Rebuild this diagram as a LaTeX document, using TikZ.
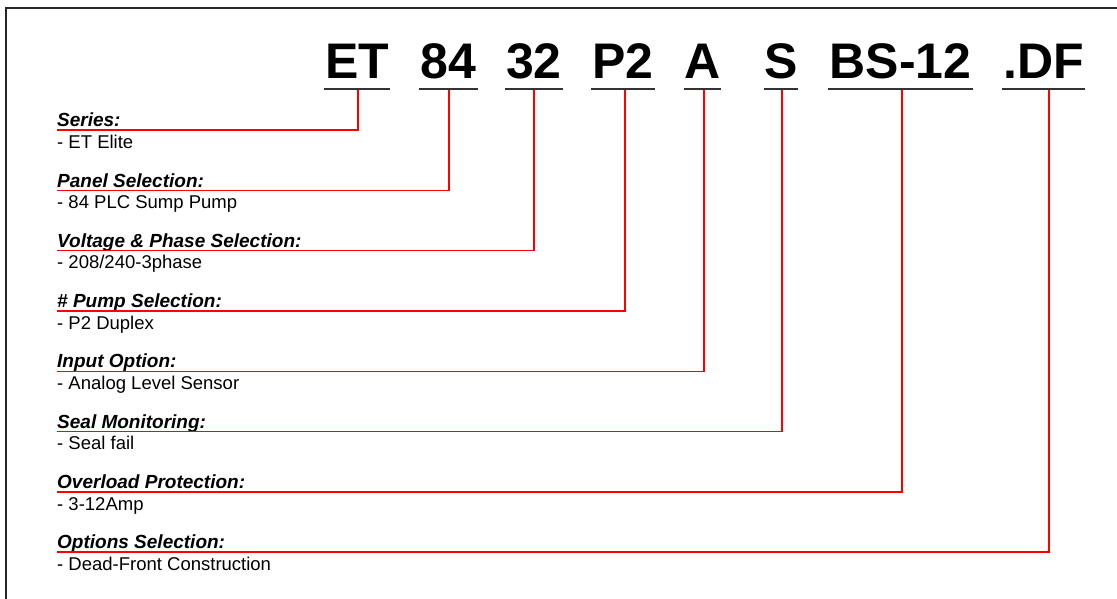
\documentclass[tikz,border=0pt]{standalone}
\usepackage{fontspec}
\setmainfont{Liberation Sans}
\begin{document}
\begin{tikzpicture}[x=1pt,y=-1pt,
  codetxt/.style={inner sep=0pt,anchor=base,font=\fontsize{50}{60}\selectfont\bfseries},
  lbl/.style={inner sep=0pt,anchor=base west,font=\fontsize{19}{22}\selectfont\bfseries\itshape},
  desc/.style={inner sep=0pt,anchor=base west,font=\fontsize{18.5}{21}\selectfont},
  uline/.style={draw=black!80,line width=1.8pt},
  conn/.style={draw=red,line width=1.4pt},
  frame/.style={draw=black!85,line width=1.5pt}]
\useasboundingbox (0,0) rectangle (1117,598);
\draw[frame] (6,600) -- (6,8) -- (1120,8);
% code letters
\foreach \n/\t/\a/\b/\v in {1/ET/324/390/358, 2/84/419/478/449, 3/32/505/563/534, 4/P2/591/655/625, 5/A/684/721/704, 6/S/764/798/782, 7/BS-12/828/973/902, 8/.DF/1002/1085/1049}{
  \node[codetxt] (c\n) at ({(\a+\b)/2},78.3) {\t};
  \draw[uline] (\a,89) -- (\b,89);
  \coordinate (u\n) at (\v,90);
}
% labels
\foreach \n/\l/\d in {1/Series:/{- ET Elite}, 2/Panel Selection:/{- 84 PLC Sump Pump}, 3/Voltage \& Phase Selection:/{- 208/240-3phase}, 4/\# Pump Selection:/{- P2 Duplex}, 5/Input Option:/{- Analog Level Sensor}, 6/Seal Monitoring:/{- Seal fail}, 7/Overload Protection:/{- 3-12Amp}, 8/Options Selection:/{- Dead-Front Construction}}{
  \pgfmathsetmacro{\yy}{130+60.3*(\n-1)}
  \node[lbl] (l\n) at (57,\yy-3.3) {\l};
  \node[desc] (d\n) at (57,\yy+18.3) {\d};
  \coordinate (r\n) at (57,\yy);
  \draw[conn] (u\n) |- (r\n);
}
\end{tikzpicture}
\end{document}
